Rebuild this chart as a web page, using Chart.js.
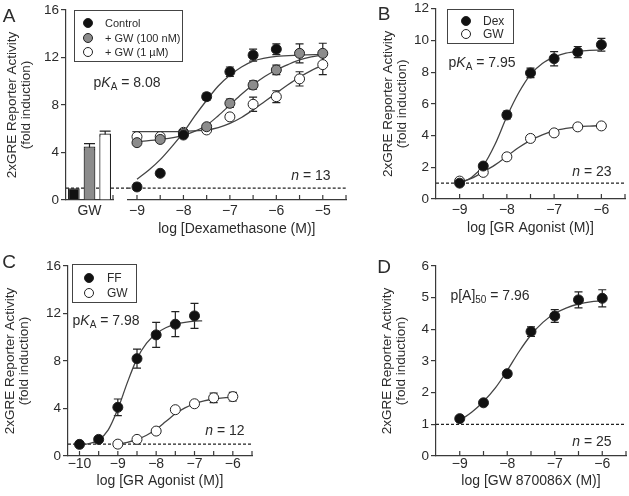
<!DOCTYPE html>
<html><head><meta charset="utf-8">
<script src="https://cdn.jsdelivr.net/npm/chart.js@4.4.1/dist/chart.umd.min.js"></script>
<style>
html,body{margin:0;padding:0;background:#fff;}
#wrap{position:relative;width:629px;height:496px;overflow:hidden;font-family:"Liberation Sans",Arial,Helvetica,sans-serif;color:#2b2b2b;}
canvas{position:absolute;left:0;top:0;}
.t{position:absolute;white-space:nowrap;transform:translate(-50%,-50%);line-height:1;}
.lbl{font-size:19px;}
.ann{font-size:14px;}
.ann sub{font-size:10px;vertical-align:-3px;line-height:0;}
.leg{position:absolute;border:1.3px solid #444;background:#fff;box-sizing:border-box;}
.li{position:absolute;white-space:nowrap;line-height:1;transform:translateY(-50%);}
.mk{position:absolute;width:10px;height:10px;border-radius:50%;border:1px solid #222;box-sizing:border-box;transform:translate(-50%,-50%);}
</style></head>
<body>
<div id="wrap">
<canvas id="cA1" width="629" height="496"></canvas>
<canvas id="cA2" width="629" height="496"></canvas>
<canvas id="cB" width="629" height="496"></canvas>
<canvas id="cC" width="629" height="496"></canvas>
<canvas id="cD" width="629" height="496"></canvas>

<div class="t lbl" style="left:9px;top:15px">A</div>
<div class="t lbl" style="left:384px;top:13px">B</div>
<div class="t lbl" style="left:9px;top:261px">C</div>
<div class="t lbl" style="left:384px;top:266px">D</div>

<div class="t ann" style="left:127px;top:82px">p<i>K</i><sub>A</sub> = 8.08</div>
<div class="t ann" style="left:482px;top:62px">p<i>K</i><sub>A</sub> = 7.95</div>
<div class="t ann" style="left:106px;top:320px">p<i>K</i><sub>A</sub> = 7.98</div>
<div class="t ann" style="left:490px;top:295px">p[A]<sub>50</sub> = 7.96</div>

<div class="t ann" style="left:311px;top:175px"><i>n</i> = 13</div>
<div class="t ann" style="left:592px;top:171px"><i>n</i> = 23</div>
<div class="t ann" style="left:225px;top:430px"><i>n</i> = 12</div>
<div class="t ann" style="left:592px;top:441px"><i>n</i> = 25</div>

<div class="leg" style="left:74px;top:10px;width:109px;height:52px"></div>
<div class="mk" style="left:88px;top:23px;background:#111"></div>
<div class="mk" style="left:88px;top:37.5px;background:#8c8c8c"></div>
<div class="mk" style="left:88px;top:52px;background:#fff"></div>
<div class="li" style="left:105px;top:23px;font-size:11px">Control</div>
<div class="li" style="left:105px;top:37.5px;font-size:11px">+ GW (100 nM)</div>
<div class="li" style="left:105px;top:52px;font-size:11px">+ GW (1 µM)</div>

<div class="leg" style="left:447px;top:9px;width:67px;height:35px"></div>
<div class="mk" style="left:466px;top:21px;background:#111"></div>
<div class="mk" style="left:466px;top:34px;background:#fff"></div>
<div class="li" style="left:483px;top:21px;font-size:12px">Dex</div>
<div class="li" style="left:483px;top:34px;font-size:12px">GW</div>

<div class="leg" style="left:72px;top:264px;width:65px;height:39px"></div>
<div class="mk" style="left:89px;top:278px;background:#111"></div>
<div class="mk" style="left:89px;top:293px;background:#fff"></div>
<div class="li" style="left:107px;top:278px;font-size:12px">FF</div>
<div class="li" style="left:107px;top:293px;font-size:12px">GW</div>
</div>

<script>
// ---------- DATA ----------
const baselineValue = 1;

// Panel A
const barCategoriesA = ['Control', '+ GW (100 nM)', '+ GW (1 µM)'];
const barValuesA = [1.0, 4.5, 5.6];
const barErrorsA = [0, 0.25, 0.2];
const xTicksA = [-9, -8.5, -8, -7.5, -7, -6.5, -6, -5.5, -5, -4.5];
const doseControlA = [-9, -8.5, -8, -7.5, -7, -6.5, -6];
const controlA = [1.1, 2.25, 5.47, 8.7, 10.8, 12.2, 12.7];
const controlErrA = [0.3, 0.12, 0.2, 0.3, 0.4, 0.5, 0.45];
const doseGwA = [-9, -8.5, -8, -7.5, -7, -6.5, -6, -5.5, -5];
const gw100A = [4.83, 5.1, 5.6, 6.17, 8.14, 9.68, 10.95, 12.35, 12.35];
const gw100ErrA = [0.15, 0.15, 0.15, 0.2, 0.35, 0.35, 0.4, 0.8, 0.85];
const gw1A = [5.33, 5.33, 5.7, 5.9, 7.0, 8.06, 8.7, 10.2, 11.4];
const gw1ErrA = [0.15, 0.15, 0.15, 0.2, 0.2, 0.6, 0.5, 0.6, 0.85];
const curveControlXA = [-9, -8.75, -8.5, -8.25, -8, -7.75, -7.5, -7.25, -7, -6.75, -6.5, -6.25, -6, -5.5, -5];
const curveControlA = [1.75, 2.5, 3.4, 4.5, 5.7, 7.1, 8.4, 9.6, 10.5, 11.2, 11.7, 11.95, 12.1, 12.2, 12.25];
const curveGw100XA = [-9.1, -9, -8.5, -8, -7.75, -7.5, -7.25, -7, -6.75, -6.5, -6.25, -6, -5.75, -5.5, -5.25, -5];
const curveGw100A = [4.85, 4.9, 5.1, 5.45, 5.8, 6.3, 7.1, 8.0, 8.9, 9.7, 10.4, 10.95, 11.4, 11.8, 12.05, 12.2];
const curveGw1XA = [-9.1, -9, -8.5, -8, -7.5, -7.25, -7, -6.75, -6.5, -6.25, -6, -5.75, -5.5, -5.25, -5];
const curveGw1A = [5.75, 5.75, 5.75, 5.78, 5.9, 6.1, 6.45, 6.95, 7.6, 8.3, 9.0, 9.7, 10.35, 10.9, 11.35];

// Panel B
const xTicksB = [-9, -8.5, -8, -7.5, -7, -6.5, -6, -5.5];
const doseB = [-9, -8.5, -8, -7.5, -7, -6.5, -6];
const dexB = [1.0, 2.08, 5.3, 7.95, 8.85, 9.27, 9.73];
const dexErrB = [0.1, 0.12, 0.25, 0.3, 0.45, 0.35, 0.4];
const gwB = [1.13, 1.68, 2.66, 3.82, 4.17, 4.55, 4.61];
const gwErrB = [0.08, 0.08, 0.1, 0.1, 0.12, 0.1, 0.1];
const curveXB = [-9, -8.75, -8.5, -8.25, -8, -7.75, -7.5, -7.25, -7, -6.75, -6.5, -6.25, -6];
const curveDexB = [1.0, 1.35, 2.1, 3.45, 5.2, 6.7, 7.85, 8.55, 8.95, 9.2, 9.32, 9.38, 9.4];
const curveGwB = [1.05, 1.3, 1.7, 2.15, 2.7, 3.25, 3.7, 4.05, 4.3, 4.45, 4.55, 4.6, 4.63];

// Panel C
const xTicksC = [-10, -9.5, -9, -8.5, -8, -7.5, -7, -6.5, -6, -5.5];
const doseFfC = [-10, -9.5, -9, -8.5, -8, -7.5, -7];
const ffC = [0.98, 1.4, 4.1, 8.2, 10.2, 11.1, 11.8];
const ffErrC = [0.1, 0.1, 0.7, 0.8, 1.05, 1.05, 1.05];
const doseGwC = [-9, -8.5, -8, -7.5, -7, -6.5, -6];
const gwC = [1.0, 1.4, 2.1, 3.9, 4.4, 4.9, 5.0];
const gwErrC = [0.1, 0.1, 0.1, 0.12, 0.15, 0.4, 0.35];
const curveFfXC = [-10, -9.75, -9.5, -9.25, -9, -8.75, -8.5, -8.25, -8, -7.75, -7.5, -7.25, -7, -6.8];
const curveFfC = [0.98, 1.05, 1.35, 2.2, 3.95, 6.2, 8.2, 9.5, 10.3, 10.8, 11.1, 11.25, 11.35, 11.38];
const curveGwXC = [-9, -8.75, -8.5, -8.25, -8, -7.75, -7.5, -7.25, -7, -6.75, -6.5, -6.25, -6];
const curveGwC = [1.0, 1.15, 1.4, 1.75, 2.25, 2.9, 3.55, 4.05, 4.4, 4.65, 4.8, 4.9, 4.95];

// Panel D
const xTicksD = [-9, -8.5, -8, -7.5, -7, -6.5, -6, -5.5];
const doseD = [-9, -8.5, -8, -7.5, -7, -6.5, -6];
const gw870D = [1.18, 1.68, 2.6, 3.93, 4.42, 4.93, 4.98];
const gw870ErrD = [0.05, 0.06, 0.08, 0.15, 0.2, 0.25, 0.27];
const curveXD = [-9, -8.75, -8.5, -8.25, -8, -7.75, -7.5, -7.25, -7, -6.75, -6.5, -6.25, -6];
const curveD = [1.12, 1.38, 1.72, 2.15, 2.7, 3.3, 3.82, 4.22, 4.5, 4.68, 4.8, 4.87, 4.9];

// ---------- STYLE ----------
const FONT = '"Liberation Sans", Arial, Helvetica, sans-serif';
const TXT = '#2b2b2b';
const AX = '#3a3a3a';
const BLACK = '#111111';
const GRAY = '#8c8c8c';
const EDGE = '#222222';
const LINE = '#444444';
const yTitle = ['2xGRE Reporter Activity', '(fold induction)'];

// ---------- PLUGINS ----------
const errorBars = {
  id: 'errorBars',
  beforeDatasetsDraw(chart) {
    const ctx = chart.ctx, ys = chart.scales.y;
    chart.data.datasets.forEach((ds, di) => {
      if (!ds.errors) return;
      const meta = chart.getDatasetMeta(di);
      const cap = (ds.errorCap || 8) / 2;
      meta.data.forEach((el, i) => {
        const e = ds.errors[i]; if (!e) return;
        const d = ds.data[i];
        const v = (typeof d === 'object') ? d.y : d;
        const x = el.x, y1 = ys.getPixelForValue(v + e), y2 = ys.getPixelForValue(v - e);
        ctx.save();
        ctx.strokeStyle = EDGE; ctx.lineWidth = 1.2;
        ctx.beginPath();
        ctx.moveTo(x, y1); ctx.lineTo(x, y2);
        ctx.moveTo(x - cap, y1); ctx.lineTo(x + cap, y1);
        ctx.moveTo(x - cap, y2); ctx.lineTo(x + cap, y2);
        ctx.stroke();
        ctx.restore();
      });
    });
  }
};
const innerTicks = {
  id: 'innerTicks',
  beforeDatasetsDraw(chart, args, opts) {
    const s = chart.scales.x; if (!s || !opts || !opts.len) return;
    const ctx = chart.ctx, y = chart.chartArea.bottom;
    ctx.save(); ctx.strokeStyle = AX; ctx.lineWidth = 1.2;
    ctx.beginPath();
    s.ticks.forEach((t, i) => { const x = s.getPixelForTick(i); ctx.moveTo(x, y); ctx.lineTo(x, y - opts.len); });
    if (opts.endTick) { const x = chart.chartArea.right; ctx.moveTo(x, y); ctx.lineTo(x, y - opts.len); }
    ctx.stroke(); ctx.restore();
  }
};
const refLine = {
  id: 'refLine',
  beforeDatasetsDraw(chart, args, opts) {
    if (!opts || opts.value == null) return;
    const ctx = chart.ctx, ca = chart.chartArea;
    const y = chart.scales.y.getPixelForValue(opts.value);
    ctx.save(); ctx.strokeStyle = '#222'; ctx.lineWidth = 1.2; ctx.setLineDash([3, 2]);
    ctx.beginPath();
    ctx.moveTo(ca.left - (opts.extendLeft || 0), y);
    ctx.lineTo(ca.right + (opts.extendRight || 0), y);
    ctx.stroke(); ctx.restore();
  }
};
Chart.register(errorBars, innerTicks, refLine);

// ---------- HELPERS ----------
const fmt = v => Number.isInteger(v) ? (v < 0 ? '\u2212' + Math.abs(v) : String(v)) : '';
const pts = (xs, ys) => xs.map((x, i) => ({ x: x, y: ys[i] }));

function yScale(min, max, step, W) {
  return {
    type: 'linear', position: 'left', min: min, max: max,
    ticks: { stepSize: step, color: TXT, font: { size: 13.5, family: FONT, lineHeight: 1 }, padding: 2 },
    grid: { display: true, drawOnChartArea: false, drawTicks: true, tickLength: 5, color: AX, lineWidth: 1.2 },
    border: { display: true, color: AX, width: 1.2 },
    title: { display: true, text: yTitle, color: TXT, font: { size: 13.5, family: FONT, lineHeight: 1.1 }, padding: 0 },
    afterFit(s) { s.width = W; }
  };
}
function xScale(min, max, tickVals, title, H, tickPad, titlePad) {
  return {
    type: 'linear', position: 'bottom', min: min, max: max,
    afterBuildTicks(s) { s.ticks = tickVals.map(v => ({ value: v })); },
    ticks: { autoSkip: false, maxRotation: 0, color: TXT, font: { size: 14, family: FONT, lineHeight: 1 }, padding: tickPad, callback: v => fmt(v) },
    grid: { display: true, drawOnChartArea: false, drawTicks: false, color: AX },
    border: { display: true, color: AX, width: 1.2 },
    title: { display: title !== null, text: title || '', color: TXT, font: { size: 14, family: FONT, lineHeight: 1.1 }, padding: { top: 0, bottom: titlePad } },
    afterFit(s) { s.height = H; }
  };
}
function opts(padding, scales, plugins) {
  return {
    responsive: false, animation: false, devicePixelRatio: 1, events: [],
    layout: { padding: padding, autoPadding: false },
    scales: scales,
    plugins: Object.assign({ legend: { display: false }, tooltip: { enabled: false } }, plugins)
  };
}
function pointSet(xs, ys, errs, fill) {
  return { data: pts(xs, ys), errors: errs, showLine: false, pointRadius: 5, pointHoverRadius: 5,
    pointBackgroundColor: fill, pointBorderColor: EDGE, pointBorderWidth: 1, order: 1 };
}
function curveSet(xs, ys) {
  return { data: pts(xs, ys), pointRadius: 0, borderColor: LINE, borderWidth: 1.3,
    cubicInterpolationMode: 'monotone', fill: false, order: 3 };
}

// ---------- PANEL A: bars ----------
new Chart(document.getElementById('cA1'), {
  type: 'bar',
  data: { labels: barCategoriesA, datasets: [{
    data: barValuesA, errors: barErrorsA, errorCap: 11,
    backgroundColor: [BLACK, GRAY, '#ffffff'], borderColor: EDGE, borderWidth: 1.2,
    barPercentage: 0.75, categoryPercentage: 1 }] },
  options: opts({ left: 4.5, right: 516, top: 10, bottom: 256 }, {
    x: { type: 'category', offset: true,
      ticks: { color: TXT, font: { size: 14, family: FONT, lineHeight: 1 }, padding: 4, autoSkip: false, maxRotation: 0,
        callback: (v, i) => i === 1 ? 'GW' : '' },
      grid: { display: true, drawOnChartArea: false, drawTicks: false, color: AX },
      border: { display: true, color: AX, width: 1.2 },
      afterFit(s) { s.height = 40; } },
    y: yScale(0, 16, 4, 61.5)
  }, { refLine: { value: baselineValue, extendRight: 15 }, innerTicks: { len: 5, endTick: true } })
});

// ---------- PANEL A: curves ----------
new Chart(document.getElementById('cA2'), {
  type: 'line',
  data: { datasets: [
    pointSet(doseControlA, controlA, controlErrA, BLACK),
    pointSet(doseGwA, gw100A, gw100ErrA, GRAY),
    pointSet(doseGwA, gw1A, gw1ErrA, '#ffffff'),
    curveSet(curveControlXA, curveControlA),
    curveSet(curveGw100XA, curveGw100A),
    curveSet(curveGw1XA, curveGw1A)
  ] },
  options: opts({ left: 127.7, right: 283, top: 10, bottom: 256 }, {
    x: xScale(-9.2, -4.5, xTicksA, 'log [Dexamethasone (M)]', 40, 4, 3.3),
    y: { display: false, min: 0, max: 16 }
  }, { refLine: { value: baselineValue }, innerTicks: { len: 5 } })
});

// ---------- PANEL B ----------
new Chart(document.getElementById('cB'), {
  type: 'line',
  data: { datasets: [
    pointSet(doseB, dexB, dexErrB, BLACK),
    pointSet(doseB, gwB, gwErrB, '#ffffff'),
    curveSet(curveXB, curveDexB),
    curveSet(curveXB, curveGwB)
  ] },
  options: opts({ left: 380.5, right: 3, top: 7, bottom: 257 }, {
    x: xScale(-9.5, -5.5, xTicksB, 'log [GR Agonist (M)]', 40, 4, 3.3),
    y: yScale(0, 12, 2, 55.5)
  }, { refLine: { value: baselineValue }, innerTicks: { len: 5 } })
});

// ---------- PANEL C ----------
new Chart(document.getElementById('cC'), {
  type: 'line',
  data: { datasets: [
    pointSet(doseFfC, ffC, ffErrC, BLACK),
    pointSet(doseGwC, gwC, gwErrC, '#ffffff'),
    curveSet(curveFfXC, curveFfC),
    curveSet(curveGwXC, curveGwC)
  ] },
  options: opts({ left: 2.5, right: 377, top: 266, bottom: 4 }, {
    x: xScale(-10.3, -5.5, xTicksC, 'log [GR Agonist (M)]', 36, 1, 3.3),
    y: yScale(0, 16, 4, 65.5)
  }, { refLine: { value: baselineValue }, innerTicks: { len: 5 } })
});

// ---------- PANEL D ----------
new Chart(document.getElementById('cD'), {
  type: 'line',
  data: { datasets: [
    pointSet(doseD, gw870D, gw870ErrD, BLACK),
    curveSet(curveXD, curveD)
  ] },
  options: opts({ left: 379.5, right: 3, top: 266, bottom: 4 }, {
    x: xScale(-9.5, -5.5, xTicksD, 'log [GW 870086X (M)]', 36, 1, 3.3),
    y: yScale(0, 6, 1, 56.5)
  }, { refLine: { value: baselineValue }, innerTicks: { len: 5 } })
});
</script>
</body></html>
